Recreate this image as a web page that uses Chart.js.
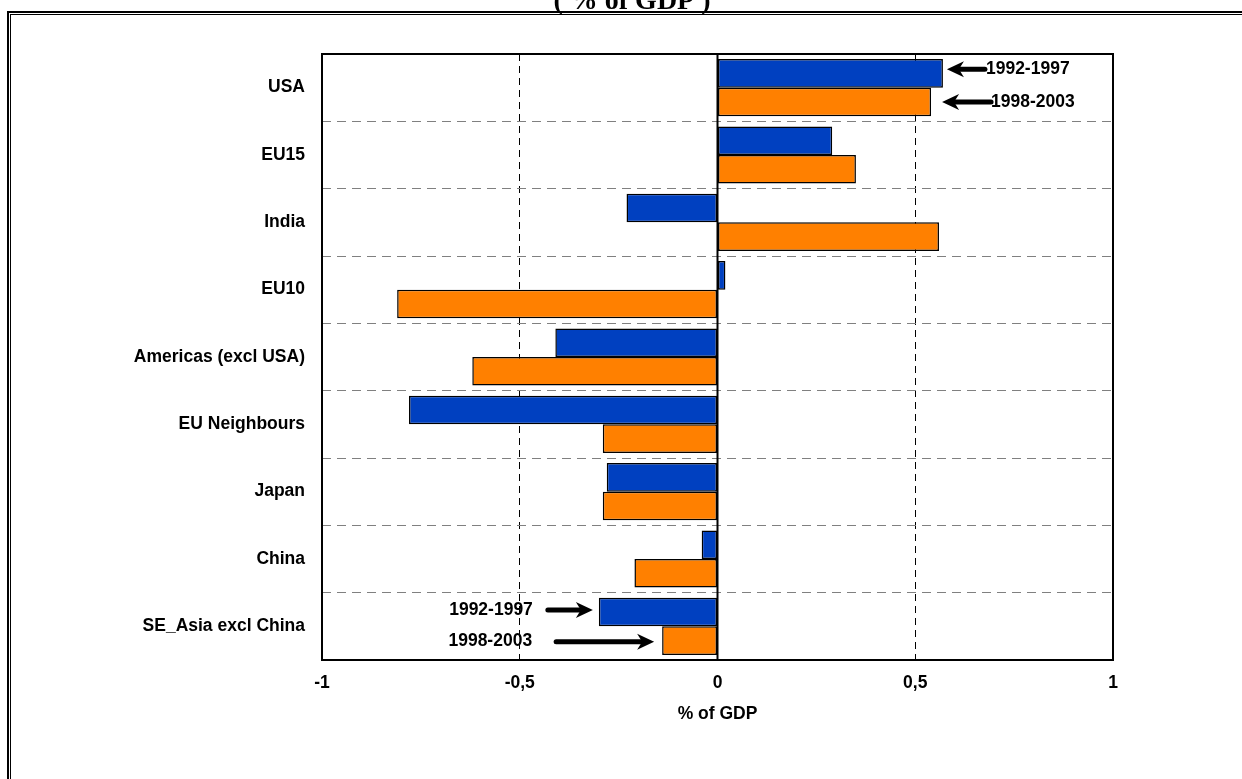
<!DOCTYPE html>
<html>
<head>
<meta charset="utf-8">
<script src="https://cdn.jsdelivr.net/npm/chart.js@4.4.1/dist/chart.umd.min.js"></script>
<style>
  html, body { margin: 0; padding: 0; background: #fff; }
  #wrap { width: 1242px; height: 779px; position: relative; }
</style>
</head>
<body>
<div id="wrap"><canvas id="c" width="1242" height="779"></canvas></div>
<script>
// Regions, top to bottom
const regions = ['USA', 'EU15', 'India', 'EU10', 'Americas (excl USA)', 'EU Neighbours', 'Japan', 'China', 'SE_Asia excl China'];

// Period labels and values (% of GDP)
const period1Label = '1992-1997';
const period2Label = '1998-2003';
const period1 = [0.57, 0.29, -0.23, 0.02, -0.41, -0.78, -0.28, -0.04, -0.30];
const period2 = [0.54, 0.35, 0.56, -0.81, -0.62, -0.29, -0.29, -0.21, -0.14];

// Axis tick labels (decimal comma) and texts
const xTickLabels = ['-1', '-0,5', '0', '0,5', '1'];
const chartTitle = '( % of GDP )';
const axisTitle = '% of GDP';

const SANS = '"Liberation Sans", Arial, Helvetica, sans-serif';
const labelFont = { family: SANS, size: 17.5, weight: 'bold' };

// Callout arrows attached to bar ends (dataset index, bar index, label text)
const callouts = [
  { ds: 0, idx: 0, text: period1Label, side: 'right', dx: 4,  dy: -4, len: 38, gap: 1 },
  { ds: 1, idx: 0, text: period2Label, side: 'right', dx: 11, dy: 0,  len: 49, gap: 0 },
  { ds: 0, idx: 8, text: period1Label, side: 'left',  dx: -6, dy: -2, len: 45, gap: 15 },
  { ds: 1, idx: 8, text: period2Label, side: 'left',  dx: -8, dy: 1,  len: 98, gap: 24 }
];

function drawArrow(ctx, x1, y1, x2, y2) {
  // tail (x1,y1) -> tip (x2,y2), horizontal
  const dir = Math.sign(x2 - x1) || 1;
  const head = 17, half = 8, notch = 5;
  ctx.save();
  ctx.strokeStyle = '#000';
  ctx.fillStyle = '#000';
  ctx.lineWidth = 5;
  ctx.lineCap = 'round';
  ctx.beginPath();
  ctx.moveTo(x1, y1);
  ctx.lineTo(x2 - dir * (head - notch), y2);
  ctx.stroke();
  ctx.beginPath();
  ctx.moveTo(x2, y2);
  ctx.lineTo(x2 - dir * head, y2 - half);
  ctx.lineTo(x2 - dir * (head - notch), y2);
  ctx.lineTo(x2 - dir * head, y2 + half);
  ctx.closePath();
  ctx.fill();
  ctx.restore();
}

const decorations = {
  id: 'decorations',
  beforeDraw(chart) {
    const ctx = chart.ctx;
    ctx.save();
    ctx.fillStyle = '#fff';
    ctx.fillRect(0, 0, chart.width, chart.height);
    // double frame around the figure
    ctx.strokeStyle = '#000';
    ctx.lineWidth = 2;
    ctx.strokeRect(8, 12, 1400, 1000);
    ctx.lineWidth = 1;
    ctx.strokeRect(10.5, 14.5, 1400, 1000);
    // heading
    ctx.fillStyle = '#000';
    ctx.font = 'bold 28px "Liberation Serif", "Times New Roman", serif';
    ctx.textAlign = 'center';
    ctx.textBaseline = 'alphabetic';
    ctx.fillText(chartTitle, 632, 9);
    ctx.restore();
  },
  afterDatasetsDraw(chart) {
    const ctx = chart.ctx;
    const { top, bottom, left, right } = chart.chartArea;
    const x0 = chart.scales.x.getPixelForValue(0);
    ctx.save();
    ctx.strokeStyle = '#000';
    ctx.lineWidth = 2;
    // zero line
    ctx.beginPath();
    ctx.moveTo(x0, top);
    ctx.lineTo(x0, bottom);
    ctx.stroke();
    // plot frame
    ctx.strokeRect(left, top, right - left, bottom - top);
    ctx.restore();

    // callouts
    ctx.save();
    ctx.font = 'bold 17.5px ' + SANS;
    ctx.fillStyle = '#000';
    ctx.textBaseline = 'middle';
    callouts.forEach(c => {
      const bar = chart.getDatasetMeta(c.ds).data[c.idx];
      const tipX = bar.x + c.dx;
      const y = bar.y + c.dy;
      if (c.side === 'right') {
        const tailX = tipX + c.len;
        drawArrow(ctx, tailX, y, tipX, y);
        ctx.textAlign = 'left';
        ctx.fillText(c.text, tailX + c.gap, y);
      } else {
        const tailX = tipX - c.len;
        drawArrow(ctx, tailX, y, tipX, y);
        ctx.textAlign = 'right';
        ctx.fillText(c.text, tailX - c.gap, y);
      }
    });
    ctx.restore();
  }
};

new Chart(document.getElementById('c'), {
  type: 'bar',
  data: {
    labels: regions,
    datasets: [
      {
        label: period1Label,
        data: period1,
        backgroundColor: '#0040C0',
        borderColor: '#000',
        borderWidth: 1.5,
        borderSkipped: false,
        categoryPercentage: 0.85,
        barPercentage: 1
      },
      {
        label: period2Label,
        data: period2,
        backgroundColor: '#FF8000',
        borderColor: '#000',
        borderWidth: 1.5,
        borderSkipped: false,
        categoryPercentage: 0.85,
        barPercentage: 1
      }
    ]
  },
  options: {
    indexAxis: 'y',
    responsive: false,
    animation: false,
    devicePixelRatio: 1,
    layout: { padding: { top: 54, right: 129, bottom: 0, left: 0 } },
    plugins: {
      legend: { display: false },
      tooltip: { enabled: false },
      title: { display: false }
    },
    scales: {
      x: {
        type: 'linear',
        min: -1,
        max: 1,
        ticks: {
          stepSize: 0.5,
          padding: 13,
          color: '#000',
          font: labelFont,
          callback: (v, i) => xTickLabels[i]
        },
        grid: {
          drawTicks: false,
          lineWidth: 1,
          color: ctx => (ctx.tick && Math.abs(Math.abs(ctx.tick.value) - 0.5) < 1e-9) ? '#000' : 'rgba(0,0,0,0)'
        },
        border: { display: false, dash: [7, 5] },
        title: {
          display: true,
          text: axisTitle,
          color: '#000',
          font: labelFont,
          padding: { top: 0, bottom: 54 }
        },
        afterFit: s => { s.height = 119; }
      },
      y: {
        ticks: { padding: 17, color: '#000', font: labelFont },
        grid: { drawTicks: false, offset: true, color: '#808080', lineWidth: 1 },
        border: { display: false, dash: [9, 6] },
        afterFit: s => { s.width = 322; }
      }
    }
  },
  plugins: [decorations]
});
</script>
</body>
</html>
